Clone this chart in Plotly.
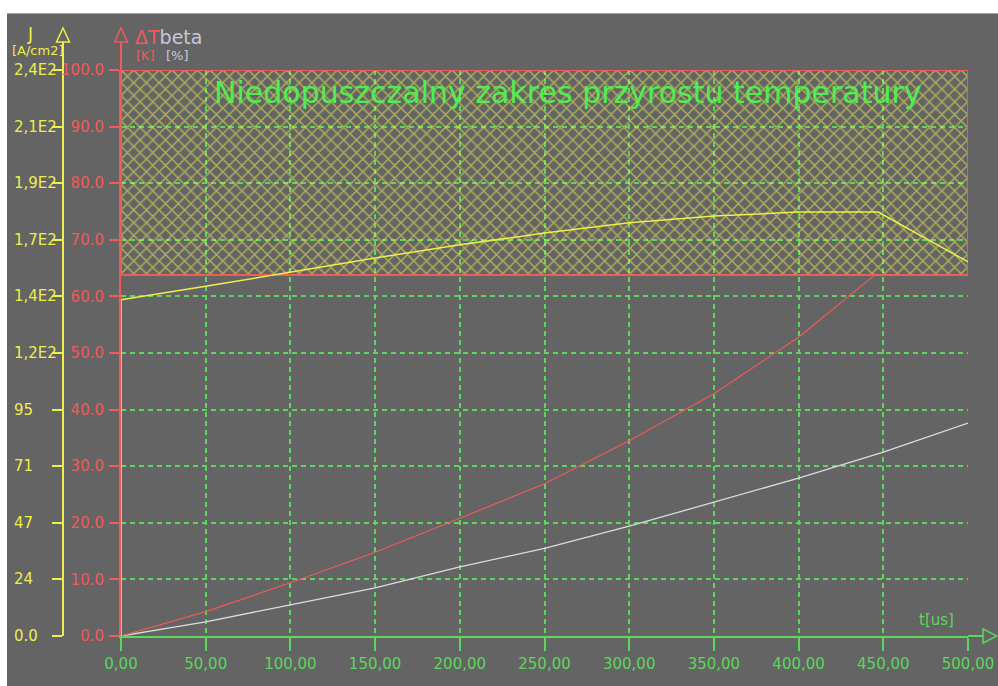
import plotly.graph_objects as go

# ---------------- data ----------------
t_dT = [0, 50, 100, 150, 200, 250, 300, 350, 400, 445]
dT = [0, 4.3, 9.4, 14.8, 20.8, 26.9, 34.5, 42.8, 52.8, 63.8]

t_beta = [0, 50, 100, 150, 200, 250, 300, 350, 400, 450, 500]
beta = [0, 2.5, 5.5, 8.5, 12.2, 15.5, 19.4, 23.7, 27.9, 32.5, 37.6]

t_J = [0, 0, 50, 100, 150, 200, 250, 300, 350, 400, 447, 500]
J = [0, 140.2, 145.8, 151.7, 157.6, 163.1, 168.0, 172.3, 175.1, 176.8, 176.8, 156.0]

t_limit = [0, 500]
dT_limit = [63.8, 100]
limit_text = "Niedopuszczalny zakres przyrostu temperatury"

x_ticks = [0, 50, 100, 150, 200, 250, 300, 350, 400, 450, 500]
x_ticktext = ["0,00", "50,00", "100,00", "150,00", "200,00", "250,00",
              "300,00", "350,00", "400,00", "450,00", "500,00"]
dT_ticks = [0, 10, 20, 30, 40, 50, 60, 70, 80, 90, 100]
dT_ticktext = ["0.0", "10.0", "20.0", "30.0", "40.0", "50.0",
               "60.0", "70.0", "80.0", "90.0", "100.0"]
J_max = 236
J_ticks = [0, 23.6, 47.2, 70.8, 94.4, 118, 141.6, 165.2, 188.8, 212.4, 236]
J_ticktext = ["0.0", "24", "47", "71", "95", "1,2E2", "1,4E2",
              "1,7E2", "1,9E2", "2,1E2", "2,4E2"]

# ---------------- style ----------------
BG = "#646464"
RED = "#f05a5a"
YEL = "#eeee4c"
GRN = "#5cd65c"
TXTGRN = "#50ee50"
WHT = "#dcdcdc"
GRY = "#c8c8d8"
FONT = "DejaVu Sans"

W, H = 998, 686
L, R, T, B = 63, 30, 70, 50
PW = W - L - R  # 905
PH = H - T - B  # 566


def px(xp):
    return (xp - L) / PW


def py(yp):
    return (H - B - yp) / PH


fig = go.Figure()

# limit region (hatched)
rx = [t_limit[0], t_limit[1], t_limit[1], t_limit[0], t_limit[0]]
ry = [dT_limit[0], dT_limit[0], dT_limit[1], dT_limit[1], dT_limit[0]]
fig.add_trace(go.Scatter(
    x=rx, y=ry, mode="lines", fill="toself",
    fillcolor="rgba(0,0,0,0)",
    fillpattern=dict(shape="x", fgcolor="#fafa50", bgcolor="rgba(0,0,0,0)",
                     size=9, solidity=0.3),
    line=dict(color=RED, width=2), hoverinfo="skip", showlegend=False))

fig.add_trace(go.Scatter(x=t_beta, y=beta, mode="lines",
                         line=dict(color=WHT, width=1.3), showlegend=False))
fig.add_trace(go.Scatter(x=t_dT, y=dT, mode="lines",
                         line=dict(color=RED, width=1.2), showlegend=False))
fig.add_trace(go.Scatter(x=t_J, y=J, mode="lines", yaxis="y2",
                         line=dict(color=YEL, width=1.5), showlegend=False))

dom0 = px(121)
fig.update_layout(
    width=W, height=H, autosize=False,
    margin=dict(l=L, r=R, t=T, b=B, pad=0, autoexpand=False),
    paper_bgcolor=BG, plot_bgcolor=BG,
    showlegend=False,
    font=dict(family=FONT),
    xaxis=dict(domain=[dom0, 1], range=[0, 500], tickvals=x_ticks, ticktext=x_ticktext,
               showline=True, linecolor=GRN, linewidth=2, automargin=False,
               ticks="outside", ticklen=13, tickcolor=GRN, tickwidth=1.5,
               tickfont=dict(color=GRN, size=15, family=FONT),
               showgrid=True, gridcolor=GRN, griddash="5px,4px", gridwidth=1.6,
               zeroline=False, fixedrange=True),
    yaxis=dict(range=[0, 100], tickvals=dT_ticks, ticktext=dT_ticktext,
               showline=True, linecolor=RED, linewidth=2, automargin=False,
               ticks="outside", ticklen=10, tickcolor=RED, tickwidth=1.5,
               tickfont=dict(color=RED, size=15, family=FONT),
               showgrid=True, gridcolor=GRN, griddash="5px,4px", gridwidth=1.6,
               zeroline=False, ticklabelstandoff=2),
    yaxis2=dict(range=[0, J_max], overlaying="y", anchor="free", position=0, side="left",
                tickvals=J_ticks, showticklabels=False, automargin=False,
                showline=True, linecolor=YEL, linewidth=2,
                ticks="outside", ticklen=10, tickcolor=YEL, tickwidth=1.5,
                showgrid=False, zeroline=False),
)

shapes = []
# white frame at top and left
shapes.append(dict(type="rect", xref="paper", yref="paper", x0=px(-5), x1=px(W + 5),
                   y0=py(13), y1=py(-5), fillcolor="white", line=dict(width=0), layer="below"))
shapes.append(dict(type="rect", xref="paper", yref="paper", x0=px(-5), x1=px(7),
                   y0=py(H + 5), y1=py(-5), fillcolor="white", line=dict(width=0), layer="below"))
shapes.append(dict(type="line", xref="paper", yref="paper", x0=px(7), x1=px(W),
                   y0=py(13.5), y1=py(13.5), line=dict(color="#a0a0a0", width=1)))
# axis extensions + arrows
for xa, col in ((63, YEL), (121, RED)):
    shapes.append(dict(type="line", xref="paper", yref="paper", x0=px(xa), x1=px(xa),
                       y0=1, y1=py(42), line=dict(color=col, width=2)))
    shapes.append(dict(type="path", xref="paper", yref="paper",
                       path=f"M {px(xa-6.5)},{py(42)} L {px(xa)},{py(28)} L {px(xa+6.5)},{py(42)} Z",
                       line=dict(color=col, width=1.5), fillcolor=BG))
shapes.append(dict(type="line", xref="paper", yref="paper", x0=1, x1=px(983),
                   y0=0, y1=0, line=dict(color=GRN, width=2)))
shapes.append(dict(type="path", xref="paper", yref="paper",
                   path=f"M {px(983)},{py(629)} L {px(997)},{py(636)} L {px(983)},{py(643)} Z",
                   line=dict(color=GRN, width=1.5), fillcolor=BG))
fig.update_layout(shapes=shapes)

ann = []
# J tick labels (left aligned)
for v, s in zip(J_ticks, J_ticktext):
    ann.append(dict(xref="paper", yref="y2", x=px(12), y=v, text=s, showarrow=False,
                    xanchor="left", yanchor="middle", font=dict(color=YEL, size=15, family=FONT)))
ann.append(dict(xref="paper", yref="paper", x=px(30), y=py(34), text="J", showarrow=False,
                xanchor="center", yanchor="middle", font=dict(color=YEL, size=17, family=FONT)))
ann.append(dict(xref="paper", yref="paper", x=px(10), y=py(51), text="[A/cm2]", showarrow=False,
                xanchor="left", yanchor="middle", font=dict(color=YEL, size=13, family=FONT)))
ann.append(dict(xref="paper", yref="paper", x=px(133), y=py(37),
                text=f"<span style='color:{RED}'>ΔT</span><span style='color:{GRY}'>beta</span>",
                showarrow=False, xanchor="left", yanchor="middle", font=dict(size=19, family=FONT)))
ann.append(dict(xref="paper", yref="paper", x=px(134), y=py(55), text="[K]", showarrow=False,
                xanchor="left", yanchor="middle", font=dict(color=RED, size=13, family=FONT)))
ann.append(dict(xref="paper", yref="paper", x=px(164), y=py(55), text="[%]", showarrow=False,
                xanchor="left", yanchor="middle", font=dict(color=GRY, size=13, family=FONT)))
ann.append(dict(xref="paper", yref="paper", x=px(956), y=py(620), text="t[us]", showarrow=False,
                xanchor="right", yanchor="middle", font=dict(color=GRN, size=15, family=FONT)))
ann.append(dict(xref="paper", yref="paper", x=px(568), y=py(93), text=limit_text, showarrow=False,
                xanchor="center", yanchor="middle", font=dict(color=TXTGRN, size=30, family=FONT)))
fig.update_layout(annotations=ann)

fig.write_html("out.html")
